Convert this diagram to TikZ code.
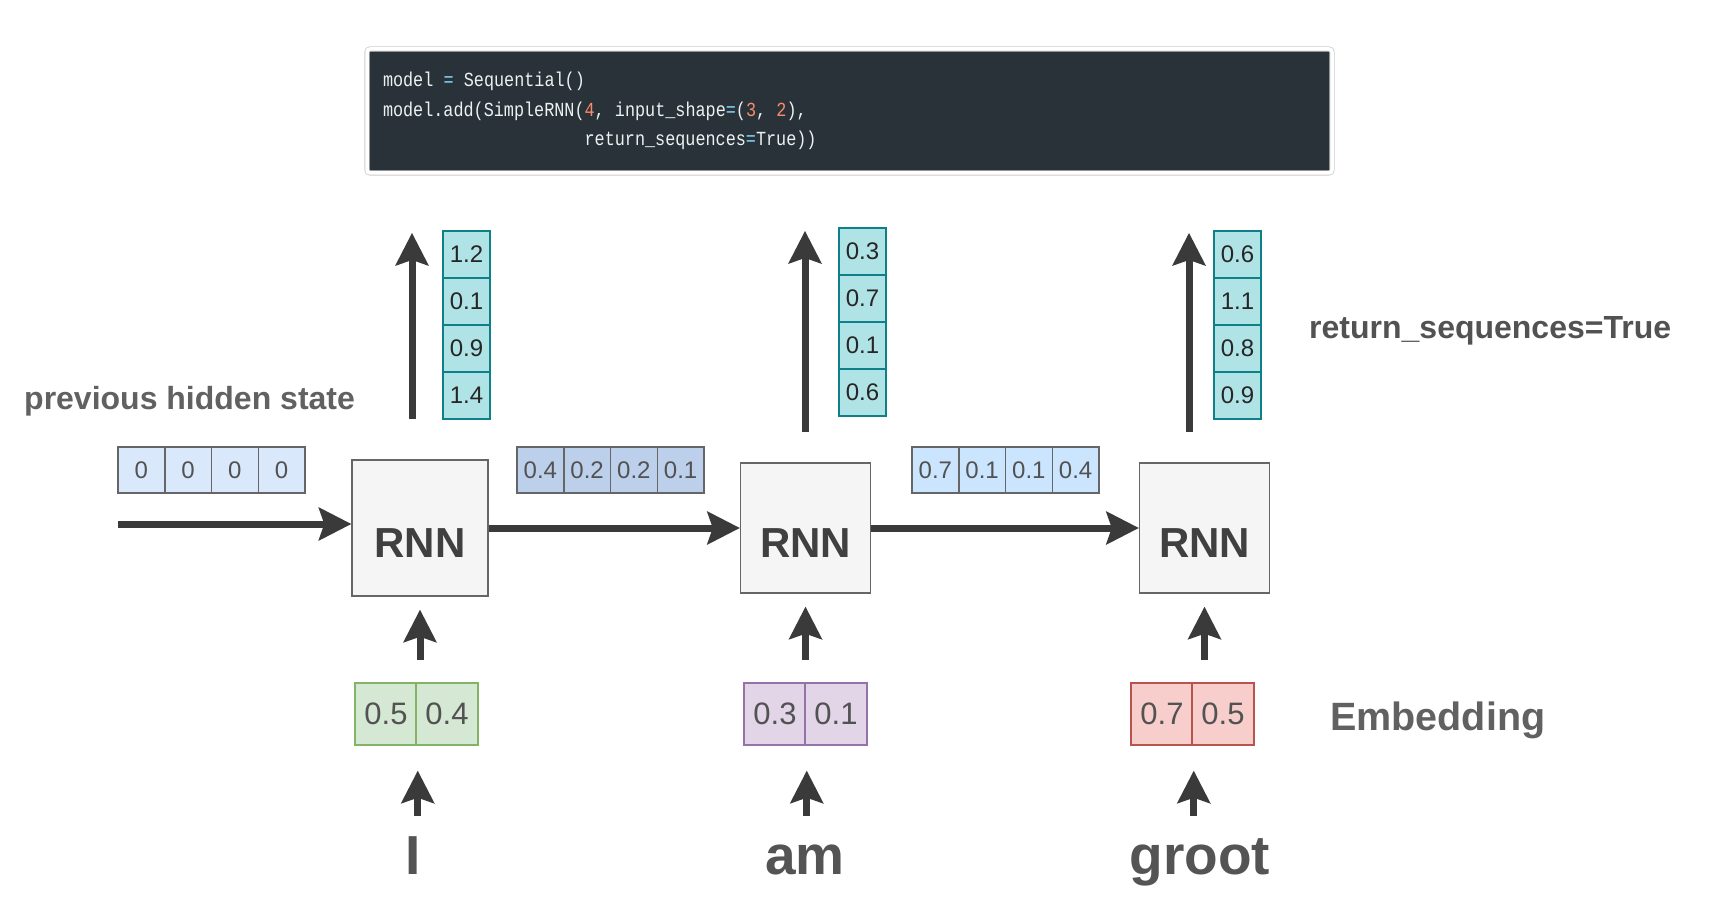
\documentclass[tikz,border=0pt]{standalone}
\usepackage{fontspec}
\setmainfont{Liberation Sans}
\newfontfamily\codefont[FakeStretch=0.84]{Liberation Mono}
\usetikzlibrary{arrows.meta,positioning,calc}
\definecolor{codebg}{RGB}{41,50,56}
\definecolor{codetxt}{RGB}{236,242,242}
\definecolor{codeop}{RGB}{137,221,255}
\definecolor{codenum}{RGB}{247,140,108}
\definecolor{boxgray}{RGB}{245,245,245}
\definecolor{linegray}{RGB}{102,102,102}
\definecolor{arrowgray}{RGB}{58,58,58}
\definecolor{hzero}{RGB}{218,232,252}
\definecolor{hone}{RGB}{188,208,236}
\definecolor{htwo}{RGB}{204,229,255}
\definecolor{outfill}{RGB}{176,227,230}
\definecolor{outline}{RGB}{14,128,136}
\definecolor{fillgreen}{RGB}{213,232,212}
\definecolor{drawgreen}{RGB}{130,179,102}
\definecolor{fillpurple}{RGB}{225,213,231}
\definecolor{drawpurple}{RGB}{150,115,166}
\definecolor{fillred}{RGB}{248,206,204}
\definecolor{drawred}{RGB}{184,84,80}
\newcommand{\csp}{\hspace*{10.2pt}}
\tikzset{
  codebox/.style={fill=codebg,draw=black!20,double=white,double distance=3.5pt,line width=0.8pt,
    rounded corners=3pt,minimum width=965pt,minimum height=124pt,text width=933pt,inner xsep=16pt,
    align=left,text=codetxt,font=\codefont\fontsize{20}{29.5}\selectfont},
  rnnbox/.style={draw=linegray,fill=boxgray,line width=1.5pt,inner sep=0pt,text height=58pt,text depth=0pt,
    font=\fontsize{42}{42}\selectfont\bfseries,text=black!75},
  hcell/.style={draw=linegray,line width=1.5pt,minimum width=46.75pt,minimum height=46pt,inner sep=0pt,
    font=\fontsize{24}{24}\selectfont,text=black!68},
  ocell/.style={draw=outline,fill=outfill,line width=2pt,minimum width=47pt,minimum height=47pt,inner sep=0pt,
    font=\fontsize{24}{24}\selectfont,text=black!85},
  ecell/.style={line width=1.5pt,minimum width=62pt,minimum height=62pt,inner sep=0pt,
    font=\fontsize{31}{31}\selectfont,text=black!68},
  word/.style={anchor=base,inner sep=0pt,text height=40pt,text depth=12pt,
    font=\fontsize{55}{55}\selectfont\bfseries,text=black!67},
  label/.style={anchor=west,inner sep=0pt,font=\fontsize{32}{32}\selectfont\bfseries,text=black!62},
  flow/.style={draw=arrowgray,line width=7pt,-{Stealth[length=33pt,width=34pt,inset=6pt,line width=0pt]}},
}

\begin{document}
\begin{tikzpicture}[x=1pt,y=-1pt]
  \useasboundingbox (0,0) rectangle (1718,920);

  % keras snippet
  \node[codebox] (code) at (849.5,111) {model\csp{\color{codeop}=}\csp Sequential()\\
    model.add(SimpleRNN({\color{codenum}4},\csp input\_shape{\color{codeop}=}({\color{codenum}3},\csp{\color{codenum}2}),\\
    \phantom{model.add(SimpleRNN(}return\_sequences{\color{codeop}=}True))};

  % one RNN cell and one input word per time step
  \foreach \i/\x/\s/\xw/\w in {1/420/136pt/413/I, 2/805.5/130pt/805/am, 3/1204.5/130pt/1200/groot}
  {
    \node[rnnbox,minimum width=\s,minimum height=\s] (rnn\i) at (\x,528) {RNN};
    \node[word] (w\i) at (\xw,874) {\w};
  }

  % hidden states
  \foreach \j/\x/\c/\vals in {0/118/hzero/{0,0,0,0}, 1/517/hone/{0.4,0.2,0.2,0.1}, 2/912/htwo/{0.7,0.1,0.1,0.4}}
    \foreach \v [count=\k] in \vals
      \node[hcell,fill=\c] (h\j-\k) at ({\x+(\k-0.5)*46.75},470) {\v};

  % outputs
  \foreach \i/\x/\y/\vals in {1/443/231/{1.2,0.1,0.9,1.4}, 2/839/228/{0.3,0.7,0.1,0.6}, 3/1214/231/{0.6,1.1,0.8,0.9}}
    \foreach \v [count=\k] in \vals
      \node[ocell] (o\i-\k) at ({\x+23.5},{\y+(\k-0.5)*47}) {\v};

  % embeddings
  \foreach \i/\x/\c/\a/\b in {1/355/green/0.5/0.4, 2/744/purple/0.3/0.1, 3/1131/red/0.7/0.5}
  {
    \node[ecell,fill=fill\c,draw=draw\c] (e\i-1) at (\x+31,714) {\a};
    \node[ecell,fill=fill\c,draw=draw\c] (e\i-2) at (\x+92,714) {\b};
  }

  % vertical arrows
  \foreach \i/\ox/\ty/\sh in {1/412/233/40pt, 2/805/231/30pt, 3/1189/233/30pt}
  {
    \coordinate (top\i) at (\ox,\ty);
    \draw[flow,shorten <=\sh] (rnn\i.north -| top\i) -- (top\i);
    \draw[flow,shorten <=22pt,shorten >=13pt] (rnn\i.south |- e\i-1.north) -- (rnn\i.south);
    \draw[flow,shorten <=18pt,shorten >=25pt] (e\i-1.south east |- w\i.north) -- (e\i-1.south east);
  }

  % hidden state flow
  \coordinate (hin) at (118,524);
  \draw[flow] (hin) -- (rnn1.west |- hin);
  \draw[flow] (rnn1.east) -- (rnn2.west);
  \draw[flow] (rnn2.east) -- (rnn3.west);

  \node[label] (prev) at (24,401) {previous hidden state};
  \node[label,text=black!68] (retseq) at (1309,331) {return\_sequences=True};
  \node[label,font=\fontsize{39.5}{39.5}\selectfont\bfseries] (emb) at (1330,720) {Embedding};
\end{tikzpicture}
\end{document}
